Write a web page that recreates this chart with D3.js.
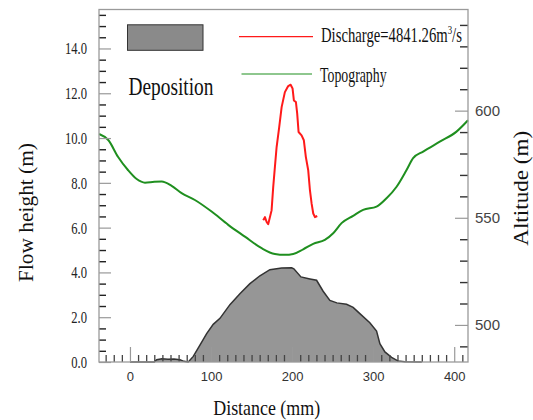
<!DOCTYPE html>
<html>
<head>
<meta charset="utf-8">
<script src="https://cdn.jsdelivr.net/npm/d3@7"></script>
<style>
  body { margin: 0; background: #fff; }
  svg { display: block; }
</style>
</head>
<body>
<svg id="chart" width="533" height="420"></svg>
<script>
// ---- Data ----------------------------------------------------------------
// Ground profile (altitude in m, right axis) along the distance axis
const topoDist = [-38, -26.8, -14.8, -2.5, 8.3, 18.5, 30, 39.1, 51.4, 63.7, 80.1, 100.7,
  121.2, 141.8, 162.4, 178.8, 191.1, 201.4, 213.7, 226.0, 240.4, 250.7, 261.0, 275.3,
  287.6, 304.2, 316.5, 328.9, 341.2, 349.3, 361.7, 382.2, 402.8, 417];
const topoAlt = [589.1, 586.3, 578.5, 572.3, 568.1, 566.4, 566.8, 566.9, 564.9, 561.5, 558.3, 552.9,
  546.7, 541.2, 535.8, 533.1, 532.7, 533.1, 535.3, 537.8, 539.7, 542.8, 547.5, 550.9,
  553.7, 555.2, 559.1, 564.5, 572.3, 577.8, 580.9, 585.5, 590.2, 595.5];

// Flow height (m, left axis) for the discharge run
const flowDist = [164.4, 166.5, 168.6, 170.5, 174.7, 176.7, 178.8, 180.9, 184.1, 187.1, 191.1,
  195.2, 198.2, 200.6, 202.2, 204.7, 206.3, 208.0, 211.7, 214.5, 217.0, 219.9, 222.0,
  224.1, 226.1, 228.2, 231.0];
const flowHeight = [6.33, 6.47, 6.25, 6.15, 6.77, 7.81, 8.71, 9.60, 10.49, 11.38, 12.05,
  12.32, 12.38, 12.21, 11.68, 11.61, 11.09, 10.27, 10.12, 9.90, 9.15, 8.56, 7.67,
  7.07, 6.63, 6.47, 6.52];

// Deposition thickness (m, left axis)
const depDist = [0, 30, 32.9, 39.5, 46.9, 54.3, 61.7, 66.6, 71.9, 78.1, 86.3, 94.6, 102.7,
  111.0, 123.3, 135.6, 148.0, 160.3, 172.6, 187.1, 199.4, 202.2, 210.9, 222.0, 230.2,
  238.3, 246.6, 255.2, 267.2, 275.3, 283.6, 295.9, 304.2, 308.3, 314.5, 322.7, 330.5,
  339, 360];
const depHeight = [0, 0, 0.10, 0.14, 0.12, 0.13, 0.10, 0.03, 0, 0.25, 0.75, 1.27, 1.68,
  1.95, 2.56, 3.05, 3.50, 3.85, 4.12, 4.20, 4.21, 4.16, 3.80, 3.71, 3.65,
  3.16, 2.75, 2.64, 2.58, 2.44, 2.16, 1.75, 1.38, 0.82, 0.45, 0.21, 0.05,
  0.01, 0];

// Tick values
const leftMajor = [0, 2, 4, 6, 8, 10, 12, 14];
const leftMinor = d3.range(0.5, 15.51, 0.5).filter(v => v % 2 !== 0);
const rightMajor = [500, 550, 600];
const rightMinor = [490, 510, 520, 530, 540, 560, 570, 580, 590, 610, 620, 630, 640];
const bottomMajor = [0, 100, 200, 300, 400];
const bottomMinor = d3.range(-30, 411, 10).filter(v => v % 100 !== 0);

// Text
const dischargeLabel = ["Discharge=4841.26m", "3", "/s"];
const topoLabel = "Topography";
const depLabel = "Deposition";
const xTitle = "Distance (mm)";
const yLeftTitle = "Flow height (m)";
const yRightTitle = "Altitude (m)";

// ---- Layout ---------------------------------------------------------------
const L = 99, R = 468, T = 9.5, B = 362;
const svg = d3.select("#chart");
const serif = "'Liberation Serif', 'DejaVu Serif', serif";
const sans = "'Liberation Sans', Arial, sans-serif";

const x = d3.scaleLinear().domain([-38.2, 417]).range([L, R]);
const yL = d3.scaleLinear().domain([0, 15.74]).range([B, T]);
const yR = d3.scaleLinear().domain([482.7, 647.2]).range([B, T]);

// Deposition body
const depData = depDist.map((d, i) => [d, depHeight[i]]);
svg.append("path")
  .datum(depData)
  .attr("d", d3.area().x(d => x(d[0])).y0(yL(0)).y1(d => yL(d[1])))
  .attr("fill", "#969696");
svg.append("path")
  .datum(depData)
  .attr("d", d3.line().x(d => x(d[0])).y(d => yL(d[1])))
  .attr("fill", "none").attr("stroke", "#333").attr("stroke-width", 1.5);

// Topography
svg.append("path")
  .datum(topoDist.map((d, i) => [d, topoAlt[i]]))
  .attr("d", d3.line().curve(d3.curveMonotoneX).x(d => x(d[0])).y(d => yR(d[1])))
  .attr("fill", "none").attr("stroke", "#1f8f1f").attr("stroke-width", 2);

// Discharge flow height
svg.append("path")
  .datum(flowDist.map((d, i) => [d, flowHeight[i]]))
  .attr("d", d3.line().x(d => x(d[0])).y(d => yL(d[1])))
  .attr("fill", "none").attr("stroke", "#ff1a1a").attr("stroke-width", 2)
  .attr("stroke-linejoin", "round");

// ---- Axes -----------------------------------------------------------------
function styleTicks(g, color, width) {
  g.select(".domain").remove();
  g.selectAll(".tick line").attr("stroke", color).attr("stroke-width", width);
}

// Left axis: minor ticks, then labelled major ticks
svg.append("g").attr("transform", `translate(${L},0)`)
  .call(d3.axisLeft(yL).tickValues(leftMinor).tickSize(-7).tickFormat(""))
  .call(g => styleTicks(g, "#222", 1.4));
const leftAxis = svg.append("g").attr("transform", `translate(${L},0)`)
  .call(d3.axisLeft(yL).tickValues(leftMajor).tickSize(-12).tickPadding(12)
    .tickFormat(d3.format(".1f")))
  .call(g => styleTicks(g, "#999", 1.2));
leftAxis.selectAll("text")
  .attr("font-family", serif).attr("font-size", 17).attr("fill", "#222")
  .each(function () {
    const w = this.getComputedTextLength();
    d3.select(this).attr("textLength", w * 0.74).attr("lengthAdjust", "spacingAndGlyphs");
  });

// Right axis
svg.append("g").attr("transform", `translate(${R},0)`)
  .call(d3.axisRight(yR).tickValues(rightMinor).tickSize(-8).tickFormat(""))
  .call(g => styleTicks(g, "#333", 1.4));
svg.append("g").attr("transform", `translate(${R},0)`)
  .call(d3.axisRight(yR).tickValues(rightMajor).tickSize(-13).tickPadding(7)
    .tickFormat(d3.format("d")))
  .call(g => styleTicks(g, "#999", 1.2))
  .selectAll("text")
  .attr("font-family", sans).attr("font-size", 15).attr("fill", "#444");

// Bottom axis
svg.append("g").attr("transform", `translate(0,${B})`)
  .call(d3.axisBottom(x).tickValues(bottomMinor).tickSize(-7).tickFormat(""))
  .call(g => styleTicks(g, "#444", 1.3));
svg.append("g").attr("transform", `translate(0,${B})`)
  .call(d3.axisBottom(x).tickValues(bottomMajor).tickSize(-15).tickPadding(10)
    .tickFormat(d3.format("d")))
  .call(g => styleTicks(g, "#999", 1.2))
  .selectAll("text")
  .attr("font-family", sans).attr("font-size", 13).attr("fill", "#333");

// Frame
svg.append("rect")
  .attr("x", L).attr("y", T).attr("width", R - L).attr("height", B - T)
  .attr("fill", "none").attr("stroke", "#9a9a9a").attr("stroke-width", 1.3);

// ---- Text helpers ---------------------------------------------------------
// Places a text block and squeezes it horizontally to the given width.
function fitText(parts, cx, cy, width, size, opts = {}) {
  const g = svg.append("g");
  const t = g.append("text")
    .attr("font-family", serif).attr("font-size", size).attr("fill", "#111")
    .attr("text-anchor", opts.anchor || "start");
  parts.forEach(p => {
    const s = t.append("tspan").text(p.text);
    if (p.sup) s.attr("font-size", size * 0.6).attr("dy", -size * 0.38);
    if (p.after) s.attr("dy", size * 0.38);
  });
  const bw = t.node().getBBox().width;
  const sx = width / bw;
  g.attr("transform", `translate(${cx},${cy}) rotate(${opts.rotate || 0}) scale(${sx},1)`);
  return g;
}

// Legend
svg.append("rect")
  .attr("x", 127.5).attr("y", 24.8).attr("width", 75.5).attr("height", 25.5)
  .attr("fill", "#8a8a8a").attr("stroke", "#333").attr("stroke-width", 1);
svg.append("line").attr("x1", 239).attr("x2", 313).attr("y1", 36.7).attr("y2", 36.7)
  .attr("stroke", "#ff1a1a").attr("stroke-width", 1.2);
svg.append("line").attr("x1", 241.5).attr("x2", 312).attr("y1", 74).attr("y2", 74)
  .attr("stroke", "#1f8f1f").attr("stroke-width", 1.2);

fitText([{ text: dischargeLabel[0] }, { text: dischargeLabel[1], sup: true },
  { text: dischargeLabel[2], after: true }], 321, 42, 141, 21);
fitText([{ text: topoLabel }], 320, 81.5, 67, 21);
fitText([{ text: depLabel }], 128.5, 94.5, 85, 26);

// Axis titles
fitText([{ text: xTitle }], 266.7, 415, 107, 22, { anchor: "middle" });
fitText([{ text: yLeftTitle }], 33, 212.5, 139, 22, { anchor: "middle", rotate: -90 });
fitText([{ text: yRightTitle }], 527.5, 188.3, 115, 21, { anchor: "middle", rotate: -90 });
</script>
</body>
</html>
